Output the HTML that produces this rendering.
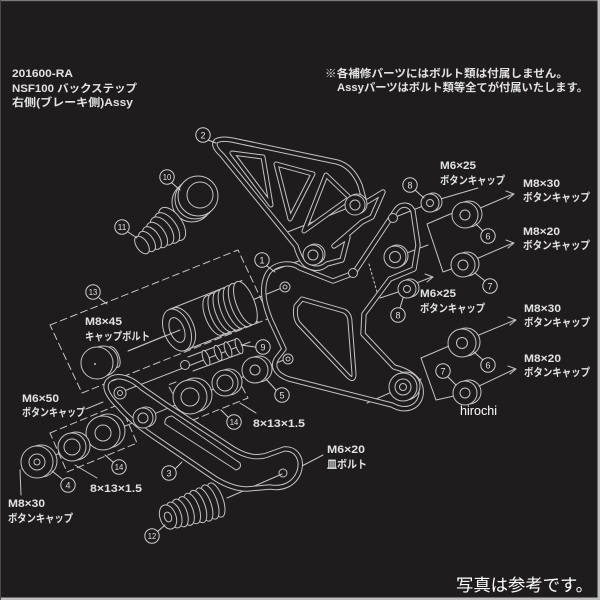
<!DOCTYPE html>
<html><head><meta charset="utf-8"><style>
html,body{margin:0;padding:0;background:#1f1c1d;}
svg{display:block;}
.t{font-family:"Liberation Sans","Noto Sans CJK JP",sans-serif;font-weight:bold;fill:#e2e2e2;font-size:11px;}
.n{font-family:"Liberation Sans",sans-serif;font-size:9px;fill:#e0e0e0;text-anchor:middle;}
.f circle,.f ellipse,.f path{fill:#1f1c1d;}
</style></head><body>
<svg width="600" height="600" viewBox="0 0 600 600" xmlns="http://www.w3.org/2000/svg">
<rect width="600" height="600" fill="#1f1c1d"/>
<rect x="0" y="0" width="600" height="1.2" fill="#7a7a7a"/>
<rect x="597.5" y="0" width="2.5" height="600" fill="#bdbdbd"/>
<rect x="0" y="597.5" width="600" height="2.5" fill="#bdbdbd"/>
<rect x="0" y="0" width="1" height="600" fill="#4a4a4a"/>

<text class="t" x="12" y="77" font-size="12" textLength="61" lengthAdjust="spacingAndGlyphs">201600-RA</text>
<text class="t" x="12" y="92" font-size="12" textLength="125" lengthAdjust="spacingAndGlyphs">NSF100 バックステップ</text>
<text class="t" x="12" y="106" font-size="12" textLength="121" lengthAdjust="spacingAndGlyphs">右側(ブレーキ側)Assy</text>
<text class="t" x="325" y="77" font-size="11.5" textLength="243" lengthAdjust="spacingAndGlyphs">※各補修パーツにはボルト類は付属しません。</text>
<text class="t" x="337" y="91" font-size="11.5" textLength="251" lengthAdjust="spacingAndGlyphs">Assyパーツはボルト類等全てが付属いたします。</text>

<g fill="none" stroke="#c4c4c4" stroke-width="1" stroke-linejoin="round" stroke-linecap="round">
<g stroke-dasharray="7 4">
<polygon points="50,325 238,250 270,318 82,393"/>
<polyline points="176,382 168,385 188,422 248,398 240,383"/>
<polygon points="50,433 120,404 137,443 67,472"/>
</g>

<line x1="128" y1="351" x2="284" y2="287"/>
<line x1="22" y1="469" x2="286" y2="359"/>
<line x1="124" y1="391" x2="250" y2="342"/>
<line x1="353" y1="206" x2="285" y2="233"/>
<line x1="312" y1="256" x2="272" y2="271"/>
<line x1="393" y1="218" x2="428" y2="204"/>
<line x1="396" y1="257" x2="428" y2="245"/>
<polyline points="455,212 427,224 443,272 457,267"/>
<line x1="407" y1="289" x2="380" y2="298"/>
<line x1="369" y1="264" x2="377" y2="292" stroke-dasharray="2 2.5"/>
<polyline points="449,346 421,358 436,400 454,396"/>
<line x1="367" y1="403" x2="421" y2="379"/>
<line x1="437" y1="200" x2="478" y2="188"/>
<line x1="478" y1="209" x2="513" y2="194"/><polyline points="506,191 514,194 508,199"/>
<line x1="476" y1="259" x2="513" y2="243"/><polyline points="506,240 514,243 508,248"/>
<line x1="414" y1="284" x2="432" y2="277"/><polyline points="425,274 433,277 427,282"/>
<line x1="474" y1="337" x2="515" y2="320"/><polyline points="508,317 516,320 510,325"/>
<line x1="477" y1="387" x2="515" y2="369"/><polyline points="508,366 516,369 510,374"/>
<line x1="86" y1="409" x2="103" y2="402"/>
<line x1="21" y1="495" x2="20" y2="470"/>
<line x1="75" y1="465" x2="97" y2="478"/>
<line x1="240" y1="403" x2="256" y2="413"/>
<line x1="300" y1="467" x2="323" y2="455"/>
<line x1="227" y1="498" x2="282" y2="474"/>

<!-- plate 2 -->
<g>
<path d="M216,141 Q222,138 232,140 L337,162 Q352,166 360,185 L365,203 L383,192 L372,217 L362,222 L334,246 L348,237 L342,260 L327,264 Q318,272 306,265 Q300,260 296,246 L222,155 Q212,146 216,141 Z" stroke-width="5.4"/>
<path d="M216,141 Q222,138 232,140 L337,162 Q352,166 360,185 L365,203 L383,192 L372,217 L362,222 L334,246 L348,237 L342,260 L327,264 Q318,272 306,265 Q300,260 296,246 L222,155 Q212,146 216,141 Z" stroke="#1f1c1d" stroke-width="3.4"/>
<polygon points="232,153 263,157 271,205" stroke-width="5"/>
<polygon points="232,153 263,157 271,205" stroke="#1f1c1d" stroke-width="3"/>
<polygon points="276,164 313,174 290,219" stroke-width="5"/>
<polygon points="276,164 313,174 290,219" stroke="#1f1c1d" stroke-width="3"/>
<polygon points="326,175 350,198 304,231" stroke-width="5"/>
<polygon points="326,175 350,198 304,231" stroke="#1f1c1d" stroke-width="3"/>
</g>

<!-- main bracket 1 -->
<g>
<path d="M268,273 C276,262 292,262 300,268 L333,281 L354,273 L396,210 C401,203 410,204 413,211 L418,245 L414,269 L390,279 L364,314 L363,334 L394,367 C410,371 423,380 421,395 C418,409 404,412 392,405 L289,379 C277,375 271,367 277,358 L284,349 L271,321 C263,302 261,285 268,273 Z" stroke-width="5.4"/>
<path d="M268,273 C276,262 292,262 300,268 L333,281 L354,273 L396,210 C401,203 410,204 413,211 L418,245 L414,269 L390,279 L364,314 L363,334 L394,367 C410,371 423,380 421,395 C418,409 404,412 392,405 L289,379 C277,375 271,367 277,358 L284,349 L271,321 C263,302 261,285 268,273 Z" stroke="#1f1c1d" stroke-width="3.4"/>
<path d="M302,299 L344,311 Q350,314 350,322 L354,374 Q354,382 348,376 L299,324 Q294,318 296,306 Z" stroke-width="5"/>
<path d="M302,299 L344,311 Q350,314 350,322 L354,374 Q354,382 348,376 L299,324 Q294,318 296,306 Z" stroke="#1f1c1d" stroke-width="3"/>
</g>

<!-- arm 3 -->
<g>
<path d="M108,381 C116,373 130,377 142,388 L165,404 L232,448 C246,457 258,459 270,454 L284,449 C297,448 303,460 299,472 C294,485 282,489 270,487 L247,489 C236,489 226,485 216,479 L160,441 C145,431 131,421 118,406 C108,396 103,387 108,381 Z" stroke-width="5.4"/>
<path d="M108,381 C116,373 130,377 142,388 L165,404 L232,448 C246,457 258,459 270,454 L284,449 C297,448 303,460 299,472 C294,485 282,489 270,487 L247,489 C236,489 226,485 216,479 L160,441 C145,431 131,421 118,406 C108,396 103,387 108,381 Z" stroke="#1f1c1d" stroke-width="3.4"/>
<path d="M165,424 L236,470 Q242,468 240,463 L172,416 Q164,417 165,424 Z"/>
<circle cx="283" cy="473" r="4"/>
</g>

<!-- holes -->
<g class="f">
<circle cx="357" cy="204" r="10"/><circle cx="355" cy="205" r="10"/><circle cx="355" cy="205" r="5"/>
<circle cx="315" cy="254" r="10"/><circle cx="313" cy="255" r="10"/><circle cx="313" cy="255" r="5"/>
<circle cx="397" cy="256" r="11"/><circle cx="395" cy="257" r="11"/><circle cx="395" cy="257" r="5.5"/>
<circle cx="406" cy="386" r="14"/><circle cx="403" cy="387" r="14"/><circle cx="403" cy="387" r="8"/><circle cx="403" cy="387" r="3.5"/>
<circle cx="285" cy="287" r="5"/><circle cx="285" cy="287" r="2"/>
<circle cx="288" cy="359" r="5"/><circle cx="288" cy="359" r="2"/>
<circle cx="393" cy="218" r="4.5"/><circle cx="353" cy="273" r="4.5"/>
<circle cx="120" cy="393" r="6"/><circle cx="120" cy="393" r="2.5"/>
<circle cx="146" cy="417" r="10"/><circle cx="143" cy="418" r="10"/><circle cx="143" cy="418" r="5"/>
</g>

<!-- right washers -->
<g class="f">
<circle cx="433" cy="202" r="9"/><circle cx="430" cy="203" r="9"/><circle cx="430" cy="203" r="3.5"/>
<circle cx="469" cy="214" r="13"/><circle cx="465" cy="215" r="13"/><circle cx="465" cy="215" r="5"/>
<circle cx="467" cy="264" r="12"/><circle cx="463" cy="265" r="12"/><circle cx="463" cy="265" r="5"/>
<circle cx="410" cy="288" r="9"/><circle cx="407" cy="289" r="9"/><circle cx="407" cy="289" r="3.5"/>
<circle cx="466" cy="342" r="14"/><circle cx="462" cy="343" r="14"/><circle cx="462" cy="343" r="5.5"/>
<circle cx="469" cy="392" r="12"/><circle cx="465" cy="393" r="12"/><circle cx="465" cy="393" r="5"/>
</g>

<!-- middle washers -->
<g class="f">
<circle cx="259" cy="369" r="13"/><circle cx="255" cy="370" r="13"/><circle cx="255" cy="370" r="5"/>
<circle cx="229" cy="382" r="13"/><circle cx="225" cy="383" r="13"/><circle cx="225" cy="383" r="8"/>
<circle cx="195" cy="395" r="17"/><circle cx="190" cy="397" r="17"/><circle cx="190" cy="397" r="9"/>
</g>
<!-- left washers -->
<g class="f">
<circle cx="108" cy="431" r="17"/><circle cx="103" cy="433" r="17"/><circle cx="103" cy="433" r="8"/>
<circle cx="76" cy="446" r="14"/><circle cx="72" cy="447" r="14"/><circle cx="72" cy="447" r="8"/>
<circle cx="41" cy="461" r="16"/><circle cx="37" cy="462" r="16"/><circle cx="37" cy="462" r="8"/><circle cx="37" cy="462" r="3"/>
</g>

<!-- pin 9 -->
<g class="f">
<line x1="188" y1="357" x2="236" y2="339"/>
<line x1="193" y1="371" x2="242" y2="353"/>
<ellipse cx="206" cy="358" rx="3" ry="8" transform="rotate(-20 206 358)"/>
<ellipse cx="218" cy="353" rx="3" ry="8" transform="rotate(-20 218 353)"/>
<ellipse cx="228" cy="349.5" rx="3" ry="8" transform="rotate(-20 228 349.5)"/>
<ellipse cx="239" cy="346" rx="3" ry="8" transform="rotate(-20 239 346)"/>
<circle cx="185" cy="365" r="4.5"/>
</g>

<!-- cylinder 13 -->
<g class="f">
<path d="M169,309.5 L242,280.5 L258,321.5 L185,350.5 Z" stroke="none"/>
<line x1="169" y1="309.5" x2="242" y2="280.5"/>
<line x1="185" y1="350.5" x2="258" y2="321.5"/>
<ellipse cx="214.2" cy="315.4" rx="9" ry="21" transform="rotate(-21.5 214.2 315.4)"/>
<ellipse cx="219.4" cy="313.3" rx="9" ry="21.4" transform="rotate(-21.5 219.4 313.3)"/>
<ellipse cx="224.6" cy="311.3" rx="9" ry="21.8" transform="rotate(-21.5 224.6 311.3)"/>
<ellipse cx="229.8" cy="309.2" rx="9" ry="22.2" transform="rotate(-21.5 229.8 309.2)"/>
<ellipse cx="235" cy="307.1" rx="9" ry="22.6" transform="rotate(-21.5 235 307.1)"/>
<ellipse cx="240.2" cy="305" rx="9" ry="23" transform="rotate(-21.5 240.2 305)"/>
<ellipse cx="245.4" cy="303" rx="9" ry="23" transform="rotate(-21.5 245.4 303)"/>
<ellipse cx="181" cy="328.5" rx="13" ry="22" transform="rotate(-21.5 181 328.5)"/>
<ellipse cx="177" cy="330" rx="13" ry="22" transform="rotate(-21.5 177 330)"/>
<ellipse cx="177" cy="330" rx="7" ry="13" transform="rotate(-21.5 177 330)"/>
</g>
<line x1="128" y1="351" x2="180" y2="330"/>

<!-- cap bolt -->
<g class="f">
<ellipse cx="114" cy="357" rx="5" ry="11" transform="rotate(-21.5 114 357)"/>
<circle cx="103" cy="361" r="15"/>
<circle cx="97" cy="363" r="16"/>
</g>
<circle cx="95" cy="364" r="1" fill="#c4c4c4" stroke="none"/>

<!-- ring 10 -->
<g class="f">
<circle cx="192" cy="202" r="20"/><circle cx="195" cy="199" r="20"/><circle cx="198" cy="196" r="20"/>
<circle cx="200" cy="195" r="13"/>
</g>

<!-- spring 11 -->
<g class="f">
<ellipse cx="172" cy="224" rx="10" ry="19" transform="rotate(-35 172 224)"/>
<ellipse cx="167" cy="228" rx="9.5" ry="17.5" transform="rotate(-35 167 228)"/>
<ellipse cx="162" cy="231" rx="9" ry="16" transform="rotate(-35 162 231)"/>
<ellipse cx="157" cy="235" rx="8" ry="14.5" transform="rotate(-35 157 235)"/>
<ellipse cx="152" cy="238" rx="7" ry="13" transform="rotate(-35 152 238)"/>
<ellipse cx="147" cy="241.5" rx="6.5" ry="11.5" transform="rotate(-35 147 241.5)"/>
<ellipse cx="142" cy="245" rx="5.5" ry="10" transform="rotate(-35 142 245)"/>
</g>

<!-- footpeg rubber 12 -->
<g class="f">
<ellipse cx="216" cy="500" rx="7" ry="18" transform="rotate(-20 216 500)"/>
<ellipse cx="210" cy="502" rx="7" ry="18" transform="rotate(-20 210 502)"/>
<ellipse cx="204" cy="504.5" rx="7" ry="17.5" transform="rotate(-20 204 504.5)"/>
<ellipse cx="198" cy="506.5" rx="7" ry="17" transform="rotate(-20 198 506.5)"/>
<ellipse cx="192" cy="508.5" rx="7" ry="16" transform="rotate(-20 192 508.5)"/>
<ellipse cx="186" cy="511" rx="7" ry="15" transform="rotate(-20 186 511)"/>
<ellipse cx="180" cy="513" rx="7" ry="14.5" transform="rotate(-20 180 513)"/>
<ellipse cx="174" cy="515" rx="7" ry="13.5" transform="rotate(-20 174 515)"/>
<ellipse cx="168" cy="517" rx="8" ry="12.5" transform="rotate(-20 168 517)"/>
<ellipse cx="168" cy="517" rx="3.5" ry="5" transform="rotate(-20 168 517)"/>
</g>

<!-- circled numbers -->
<g class="f" stroke="#cfcfcf">
<line x1="208" y1="140" x2="216" y2="143"/>
<line x1="172" y1="183" x2="180" y2="190"/>
<line x1="128" y1="232" x2="137" y2="238"/>
<line x1="267" y1="266" x2="275" y2="272"/>
<line x1="99" y1="298" x2="107" y2="304"/>
<line x1="255" y1="347" x2="241" y2="345"/>
<line x1="276" y1="390" x2="266" y2="379"/>
<line x1="228" y1="417" x2="221" y2="410"/>
<line x1="113" y1="462" x2="105" y2="455"/>
<line x1="62" y1="479" x2="52" y2="471"/>
<line x1="175" y1="469" x2="182" y2="462"/>
<line x1="157" y1="532" x2="165" y2="525"/>
<line x1="415" y1="190" x2="424" y2="198"/>
<line x1="483" y1="231" x2="476" y2="224"/>
<line x1="485" y1="281" x2="475" y2="273"/>
<line x1="400" y1="308" x2="403" y2="298"/>
<line x1="483" y1="360" x2="474" y2="352"/>
<line x1="448" y1="377" x2="456" y2="385"/>
<circle cx="203" cy="135" r="7.2"/>
<circle cx="167" cy="177" r="7.2"/>
<circle cx="122" cy="227" r="7.2"/>
<circle cx="262" cy="260" r="7.2"/>
<circle cx="93" cy="292" r="7.2"/>
<circle cx="263" cy="347" r="7.2"/>
<circle cx="282" cy="395" r="7.2"/>
<circle cx="234" cy="422" r="7.2"/>
<circle cx="119" cy="467" r="7.2"/>
<circle cx="68" cy="485" r="7.2"/>
<circle cx="169" cy="473" r="7.2"/>
<circle cx="152" cy="536" r="7.2"/>
<circle cx="410" cy="185" r="7.2"/>
<circle cx="488" cy="236" r="7.2"/>
<circle cx="490" cy="286" r="7.2"/>
<circle cx="398" cy="315" r="7.2"/>
<circle cx="488" cy="365" r="7.2"/>
<circle cx="443" cy="371" r="7.2"/>
</g>
</g>

<g class="n">
<text x="203" y="138.5">2</text>
<text x="167" y="180" font-size="8" textLength="8.5" lengthAdjust="spacingAndGlyphs">10</text>
<text x="122" y="230" font-size="8" textLength="8.5" lengthAdjust="spacingAndGlyphs">11</text>
<text x="262" y="263.5">1</text>
<text x="93" y="295" font-size="8" textLength="8.5" lengthAdjust="spacingAndGlyphs">13</text>
<text x="263" y="350.5">9</text>
<text x="282" y="398.5">5</text>
<text x="234" y="425" font-size="8" textLength="8.5" lengthAdjust="spacingAndGlyphs">14</text>
<text x="119" y="470" font-size="8" textLength="8.5" lengthAdjust="spacingAndGlyphs">14</text>
<text x="68" y="488.5">4</text>
<text x="169" y="476.5">3</text>
<text x="152" y="539" font-size="8" textLength="8.5" lengthAdjust="spacingAndGlyphs">12</text>
<text x="410" y="188.5">8</text>
<text x="488" y="239.5">6</text>
<text x="490" y="289.5">7</text>
<text x="398" y="318.5">8</text>
<text x="488" y="368.5">6</text>
<text x="443" y="374.5">7</text>
</g>

<text class="t" x="440" y="169" textLength="36" lengthAdjust="spacingAndGlyphs">M6×25</text>
<text class="t" x="440" y="184" textLength="65" lengthAdjust="spacingAndGlyphs">ボタンキャップ</text>
<text class="t" x="523" y="187" textLength="37" lengthAdjust="spacingAndGlyphs">M8×30</text>
<text class="t" x="523" y="201" textLength="67" lengthAdjust="spacingAndGlyphs">ボタンキャップ</text>
<text class="t" x="523" y="235" textLength="37" lengthAdjust="spacingAndGlyphs">M8×20</text>
<text class="t" x="523" y="249" textLength="67" lengthAdjust="spacingAndGlyphs">ボタンキャップ</text>
<text class="t" x="420" y="297" textLength="36" lengthAdjust="spacingAndGlyphs">M6×25</text>
<text class="t" x="420" y="312" textLength="65" lengthAdjust="spacingAndGlyphs">ボタンキャップ</text>
<text class="t" x="524" y="312" textLength="37" lengthAdjust="spacingAndGlyphs">M8×30</text>
<text class="t" x="524" y="326" textLength="66" lengthAdjust="spacingAndGlyphs">ボタンキャップ</text>
<text class="t" x="524" y="362" textLength="37" lengthAdjust="spacingAndGlyphs">M8×20</text>
<text class="t" x="524" y="376" textLength="66" lengthAdjust="spacingAndGlyphs">ボタンキャップ</text>
<text class="t" x="85" y="325" textLength="37" lengthAdjust="spacingAndGlyphs">M8×45</text>
<text class="t" x="85" y="340" textLength="65" lengthAdjust="spacingAndGlyphs">キャップボルト</text>
<text class="t" x="22" y="402" textLength="37" lengthAdjust="spacingAndGlyphs">M6×50</text>
<text class="t" x="22" y="416" textLength="63" lengthAdjust="spacingAndGlyphs">ボタンキャップ</text>
<text class="t" x="253" y="427" textLength="52" lengthAdjust="spacingAndGlyphs">8×13×1.5</text>
<text class="t" x="90" y="492" textLength="52" lengthAdjust="spacingAndGlyphs">8×13×1.5</text>
<text class="t" x="8" y="507" textLength="37" lengthAdjust="spacingAndGlyphs">M8×30</text>
<text class="t" x="8" y="522" textLength="65" lengthAdjust="spacingAndGlyphs">ボタンキャップ</text>
<text class="t" x="327" y="453" textLength="38" lengthAdjust="spacingAndGlyphs">M6×20</text>
<text class="t" x="327" y="468" textLength="40" lengthAdjust="spacingAndGlyphs">皿ボルト</text>

<text x="460" y="415" font-family="Liberation Sans, sans-serif" font-size="12.5" fill="#ffffff" textLength="37" lengthAdjust="spacingAndGlyphs">hirochi</text>
<text x="456" y="591" font-family="Liberation Sans, Noto Sans CJK JP, sans-serif" font-size="17" fill="#ffffff" textLength="137" lengthAdjust="spacingAndGlyphs">写真は参考です。</text>
</svg>
</body></html>
